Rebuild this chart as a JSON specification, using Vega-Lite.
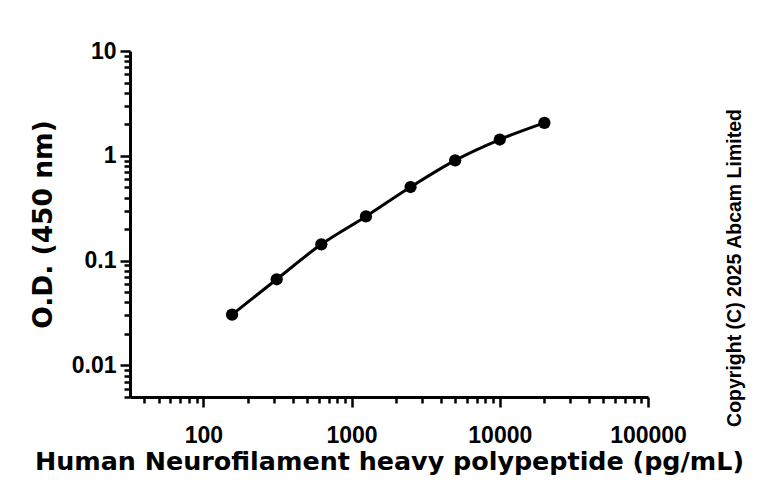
{
  "$schema": "https://vega.github.io/schema/vega-lite/v6.json",
  "autosize": "none",
  "width": 518,
  "height": 346,
  "padding": {"left": 130, "top": 51, "right": 120, "bottom": 104},
  "background": "white",
  "config": {"view": {"stroke": null}},
  "title": {
    "text": "Copyright (C) 2025 Abcam Limited",
    "orient": "right",
    "frame": "group",
    "angle": 270,
    "baseline": "top",
    "anchor": "middle",
    "dx": -44,
    "offset": -37,
    "font": "Liberation Sans",
    "fontWeight": "bold",
    "fontSize": 19.5,
    "color": "black"
  },
  "data": {
    "values": [
      {"conc": 156.25, "od": 0.0305},
      {"conc": 312.5, "od": 0.0664},
      {"conc": 625, "od": 0.143},
      {"conc": 1250, "od": 0.264},
      {"conc": 2500, "od": 0.504},
      {"conc": 5000, "od": 0.906},
      {"conc": 10000, "od": 1.43},
      {"conc": 20000, "od": 2.06}
    ]
  },
  "encoding": {
    "x": {
      "field": "conc",
      "type": "quantitative",
      "scale": {"type": "log", "domain": [32, 100000], "nice": false, "zero": false},
      "axis": {
        "title": "Human Neurofilament heavy polypeptide (pg/mL)",
        "values": [40,50,60,70,80,90,100,200,300,400,500,600,700,800,900,1000,2000,3000,4000,5000,6000,7000,8000,9000,10000,20000,30000,40000,50000,60000,70000,80000,90000,100000],
        "format": "~g",
        "labelExpr": "indexof([100,1000,10000,100000], datum.value) >= 0 ? datum.label : ''",
        "labelOverlap": false,
        "labelFlush": false,
        "labelBound": false,
        "grid": false,
        "domainColor": "black",
        "domainWidth": 3,
        "tickColor": "black",
        "tickWidth": 2.5,
        "tickSize": {"condition": {"test": "indexof([100,1000,10000,100000], datum.value) >= 0", "value": 10}, "value": 6},
        "labelFont": "Liberation Sans",
        "labelFontWeight": "bold",
        "labelFontSize": 23,
        "labelColor": "black",
        "labelPadding": 17,
        "titleFont": "DejaVu Sans",
        "titleFontWeight": "bold",
        "titleFontSize": 25.4,
        "titleColor": "black",
        "titlePadding": 2
      }
    },
    "y": {
      "field": "od",
      "type": "quantitative",
      "scale": {"type": "log", "domain": [0.005, 10], "nice": false, "zero": false},
      "axis": {
        "title": "O.D. (450 nm)",
        "values": [0.005,0.006,0.007,0.008,0.009,0.01,0.02,0.03,0.04,0.05,0.06,0.07,0.08,0.09,0.1,0.2,0.3,0.4,0.5,0.6,0.7,0.8,0.9,1,2,3,4,5,6,7,8,9,10],
        "format": "~g",
        "labelExpr": "indexof([0.01,0.1,1,10], datum.value) >= 0 ? datum.label : ''",
        "labelOverlap": false,
        "labelFlush": false,
        "labelBound": false,
        "grid": false,
        "domainColor": "black",
        "domainWidth": 3,
        "tickColor": "black",
        "tickWidth": 2.5,
        "tickSize": {"condition": {"test": "indexof([0.01,0.1,1,10], datum.value) >= 0", "value": 10}, "value": 6},
        "labelFont": "Liberation Sans",
        "labelFontWeight": "bold",
        "labelFontSize": 23,
        "labelColor": "black",
        "labelPadding": 4,
        "titleFont": "DejaVu Sans",
        "titleFontWeight": "bold",
        "titleFontSize": 26.5,
        "titleColor": "black",
        "titlePadding": 14
      }
    }
  },
  "layer": [
    {"mark": {"type": "line", "interpolate": "monotone", "color": "black", "strokeWidth": 3}},
    {"mark": {"type": "point", "filled": true, "shape": "circle", "size": 150, "color": "black", "opacity": 1}}
  ]
}
